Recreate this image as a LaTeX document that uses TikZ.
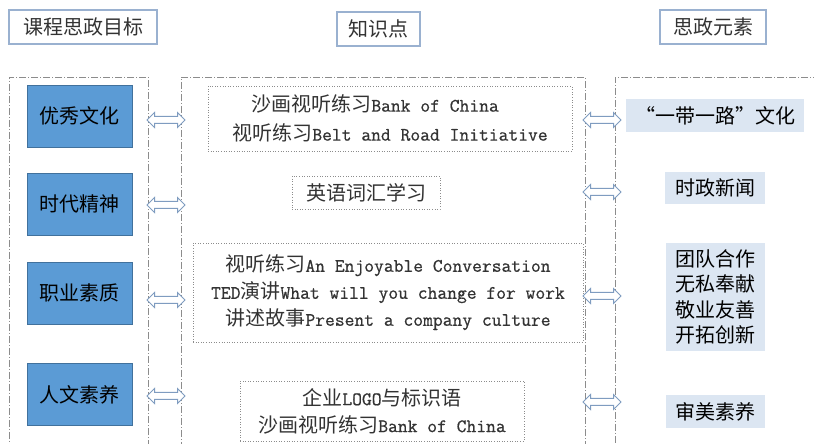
\documentclass[tikz,border=0pt]{standalone}
\usepackage{fontspec}
\setmainfont{Noto Sans CJK SC}
\newfontfamily\enfont[Scale=0.952,FakeBold=0.7]{Latin Modern Mono}
\usetikzlibrary{shapes.arrows}
\definecolor{goalblue}{HTML}{5B9BD5}
\definecolor{goaledge}{HTML}{41719C}
\definecolor{elemfill}{HTML}{DCE6F2}
\definecolor{titleedge}{HTML}{9AB1D0}
\definecolor{framegray}{HTML}{8C8C8C}
\definecolor{arrowblue}{HTML}{7F9CC0}
\definecolor{textgray}{HTML}{333333}
\tikzset{
  titlebox/.style={draw=titleedge,line width=2.2bp,fill=white,rectangle,inner sep=0pt,text=textgray},
  colframe/.style={draw=framegray,line width=0.6bp,rectangle,dash pattern=on 7bp off 2bp on 1bp off 2bp},
  goalbox/.style={draw=goaledge,line width=0.8bp,fill=goalblue,rectangle,minimum width=105bp,minimum height=62bp,inner sep=0pt},
  knowbox/.style={draw=framegray,line width=0.6bp,dotted,rectangle,inner sep=0pt,text=textgray},
  elembox/.style={fill=elemfill,rectangle,inner sep=0pt},
  dblarrow/.style={double arrow,draw=arrowblue,fill=white,line width=1bp,minimum height=38bp,inner xsep=0pt,inner ysep=3bp,double arrow head extend=4bp,font=\fontsize{1bp}{1bp}\selectfont},
}
\begin{document}
\begin{tikzpicture}[font=\fontsize{20bp}{27bp}\selectfont]
\useasboundingbox (0bp,0bp) rectangle (814bp,444bp);
%%
\node (goal) at (83.0bp,417.0bp) [titlebox,minimum width=148bp,minimum height=34bp] {课程思政目标};
  \node (know) at (378.5bp,415.0bp) [titlebox,minimum width=83bp,minimum height=34bp] {知识点};
  \node (elem) at (713.0bp,417.0bp) [titlebox,minimum width=106bp,minimum height=34bp] {思政元素};
  \node (lcol) at (78.5bp,173.5bp) [colframe,minimum width=139bp,minimum height=387bp] {};
  \node (mcol) at (383.0bp,173.5bp) [colframe,minimum width=404bp,minimum height=387bp] {};
  \node (rcol) at (722.5bp,173.5bp) [colframe,minimum width=215bp,minimum height=387bp] {};
%
\node (g1) at (79.5bp,328.0bp) [goalbox] {优秀文化};
  \node (g2) at (79.5bp,240.0bp) [goalbox] {时代精神};
  \node (g3) at (79.5bp,151.0bp) [goalbox] {职业素质};
  \node (g4) at (79.5bp,49.5bp) [goalbox] {人文素养};
%
\node (k1) at (390.0bp,325.5bp) [knowbox,minimum width=364bp,minimum height=65bp,align=left,font=\fontsize{20bp}{29bp}\selectfont] {\hspace*{19bp}沙画视听练习{\enfont Bank of China}\\视听练习{\enfont Belt and Road Initiative}};
  \node (k2) at (366.0bp,251.5bp) [knowbox,minimum width=148bp,minimum height=33bp] {英语词汇学习};
  \node (k3) at (388.0bp,151.5bp) [knowbox,minimum width=390bp,minimum height=99bp,align=center] {视听练习{\enfont An Enjoyable Conversation}\\{\enfont TED}演讲{\enfont What will you change for work}\\讲述故事{\enfont Present a company culture}};
  \node (k4) at (382.0bp,33.0bp) [knowbox,minimum width=284bp,minimum height=60bp,align=center] {企业{\enfont LOGO}与标识语\\沙画视听练习{\enfont Bank of China}};
%
\node (e1) at (715.0bp,328.5bp) [elembox,minimum width=178bp,minimum height=33bp] {“一带一路”文化};
  \node (e2) at (715.0bp,256.0bp) [elembox,minimum width=100bp,minimum height=32bp] {时政新闻};
  \node (e3) at (715.5bp,147.0bp) [elembox,minimum width=99bp,minimum height=108bp,align=center,font=\fontsize{20bp}{25.5bp}\selectfont] {团队合作\\无私奉献\\敬业友善\\开拓创新};
  \node (e4) at (715.5bp,32.5bp) [elembox,minimum width=99bp,minimum height=33bp] {审美素养};
%
\node (a1) at (166.0bp,324.0bp) [dblarrow] {};
  \node (a2) at (166.0bp,239.0bp) [dblarrow] {};
  \node (a3) at (166.0bp,144.0bp) [dblarrow] {};
  \node (a4) at (166.0bp,48.0bp) [dblarrow] {};
  \node (b1) at (602.0bp,324.0bp) [dblarrow] {};
  \node (b2) at (602.0bp,252.0bp) [dblarrow] {};
  \node (b3) at (602.0bp,148.0bp) [dblarrow] {};
  \node (b4) at (602.0bp,42.0bp) [dblarrow] {};
%
\end{tikzpicture}
\end{document}
